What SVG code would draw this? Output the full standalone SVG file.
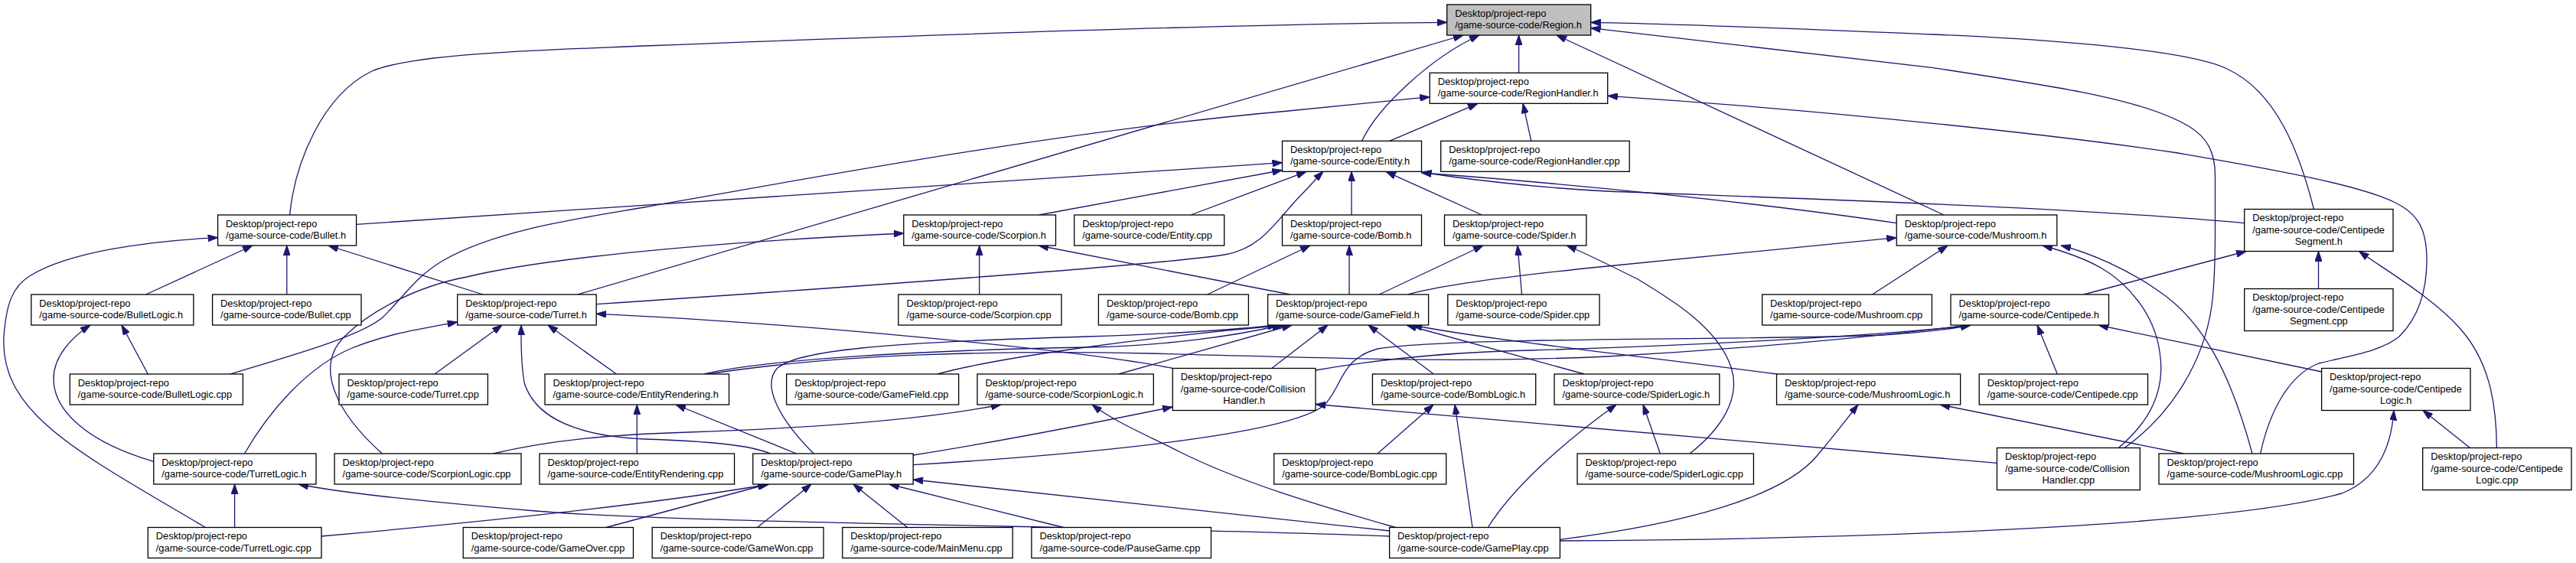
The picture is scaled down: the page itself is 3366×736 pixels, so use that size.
<svg xmlns="http://www.w3.org/2000/svg" width="3366" height="736" viewBox="0 0 3366 736">
<style>
.n rect{fill:#fff;stroke:#000;stroke-width:1.3}
.n rect.root{fill:#bfbfbf}
.n text{font-family:"Liberation Sans",Arial,Helvetica,sans-serif;font-size:12.85px;fill:#000}
.n text.c{text-anchor:middle}
.e path{fill:none;stroke:#191970;stroke-width:1.3;marker-end:url(#a)}
</style>
<defs>
<marker id="a" viewBox="0 0 13 9" refX="13" refY="4.5" markerWidth="13" markerHeight="9" markerUnits="userSpaceOnUse" orient="auto"><path d="M0,0 L13,4.5 L0,9 Z" fill="#191970" stroke="#191970" stroke-width="1"/></marker>
</defs>
<rect x="0" y="0" width="3366" height="736" fill="#fff"/>
<g id="edges" class="e">
<path d="M378.6,281 C385,215 420,125 486,93 C540,70 700,66 842,60 C1100,50 1600,31 1890.7,29.3"/>
<path d="M1984.6,95.3 L1984.6,46"/>
<path d="M1779.6,184.3 C1800,140 1870,75 1933,46"/>
<path d="M754.5,385 L1912,46"/>
<path d="M2540,281 L2034,46"/>
<path d="M3023.4,273.5 C3005,200 2975,120 2910,90 C2850,60 2600,48 2524,45 C2350,38 2200,31 2078.7,29.3"/>
<path d="M2776,585.5 C2840,540 2880,470 2890,400 C2894,370 2894.5,340 2894.5,300 L2894.5,230 C2894.5,200 2885,180 2860,165 C2800,130 2700,115 2524,88.3 L2078.7,36.7"/>
<path d="M1815.6,184.3 L1931,135.3"/>
<path d="M2000.8,184.3 L1990,135.3"/>
<path d="M300.7,489 C380,465 470,440 500,415 C530,385 545,360 580,340 C650,300 760,285 842,271 C1100,225 1400,170 1684,145 L1868.2,126.7"/>
<path d="M2953.6,593 C2965,540 2990,490 3030,475 C3070,465 3110,460 3135,440 C3165,410 3171,370 3171,340 C3171,300 3160,280 3130,265 C3080,240 2950,218 2846,200 C2700,178 2400,145 2100.7,125.3"/>
<path d="M465.6,293.3 L1675.5,212.7"/>
<path d="M1357.5,281 L1675.5,222.5"/>
<path d="M1556,281 L1707,224.3"/>
<path d="M779.2,397.7 C1100,376 1500,348 1600,333 C1650,325 1670,285 1700,255 C1710,245 1720,233 1729,224.3"/>
<path d="M1766,281 L1766,224.3"/>
<path d="M1936.4,281 L1811,224.3"/>
<path d="M2478.2,291.7 C2300,265 2050,240 1857.5,226"/>
<path d="M2932.7,291.7 C2700,270 2300,258 2100,250 C2000,245 1900,232 1857.5,225"/>
<path d="M190.6,385 L330,321"/>
<path d="M374.8,385 L374.8,321"/>
<path d="M631,385 L429,321"/>
<path d="M268.5,689.5 C100,590 0,540 5,440 C8,400 15,375 40,360 C90,330 190,315 284.6,310.7"/>
<path d="M499.4,593 C440,540 410,480 450,440 C480,410 540,375 610,362 C700,340 900,318 1180.8,305"/>
<path d="M1279.7,385 L1279.7,321"/>
<path d="M1686,385 L1357,321"/>
<path d="M1577.6,385 L1712,321"/>
<path d="M1763,385 L1763,321"/>
<path d="M1802,385 L1938,321"/>
<path d="M1988.5,385 L1983,321"/>
<path d="M2208,593 C2250,560 2275,520 2262,480 C2245,430 2190,395 2140,365 C2100,345 2070,330 2047,321"/>
<path d="M1839.7,385 Q1900,368 2100,348 L2478.2,310.7"/>
<path d="M2446.5,385 L2545,321"/>
<path d="M2768.3,585.5 C2810,550 2830,510 2822,460 C2815,410 2780,370 2745,350 C2720,336 2695,328 2669,321"/>
<path d="M2943,593 C2915,490 2880,420 2820,380 C2780,352 2730,330 2693,321"/>
<path d="M2722.7,385 L2935,328.5"/>
<path d="M3029.5,377.5 L3029.5,328.5"/>
<path d="M3262.4,585.5 C3262,520 3250,470 3215,430 C3180,390 3120,355 3082.5,328.5"/>
<path d="M193.3,489 L159,425"/>
<path d="M200.8,603.3 C120,580 70,540 70,495 C70,465 95,440 118,425"/>
<path d="M568,489 L656,425"/>
<path d="M805.5,489 L716,425"/>
<path d="M1006.7,593 C980,582 930,577 842,574 C760,570 700,550 685,500 C680,470 681,445 681,425"/>
<path d="M319.5,593 C350,540 400,480 460,455 C510,435 560,428 597.7,421"/>
<path d="M1532.3,481.5 C1400,455 1000,420 779.2,410.3"/>
<path d="M920,489 C1000,470 1200,458 1420,454 C1520,452 1610,440 1675,425"/>
<path d="M1225,489 C1300,468 1500,440 1680,425"/>
<path d="M1461.7,489 L1688,425"/>
<path d="M1063.3,593 C1020,550 995,505 1015,482 C1040,458 1150,448 1420,440 C1550,436 1620,430 1670,425"/>
<path d="M1661.7,481.5 L1735,425"/>
<path d="M1873.3,489 L1788,425"/>
<path d="M2070,489 L1838,425"/>
<path d="M2322,489 C2100,460 1950,445 1845,425"/>
<path d="M925,489 C1100,462 1300,458 1500,462 C1750,468 1900,475 2100,466 C2300,455 2450,440 2575,425"/>
<path d="M1719,484 C1800,470 1900,460 2000,458 C2200,452 2450,440 2575,425"/>
<path d="M1193.2,607.7 C1400,595 1680,570 1730,530 C1755,505 1750,470 1800,456 C1900,440 2300,445 2460,438 C2510,435 2550,430 2575,425"/>
<path d="M2688.3,489 L2662,425"/>
<path d="M3033.6,486 L2742,425"/>
<path d="M832.3,593 L832.3,529"/>
<path d="M1040.7,593 L883,529"/>
<path d="M644.4,593 C720,575 800,568 900,565 C1050,560 1200,550 1308,529"/>
<path d="M1823.6,689.5 C1720,660 1620,630 1540,590 C1490,565 1455,550 1427,529"/>
<path d="M1193.2,595 C1300,578 1420,555 1532,532"/>
<path d="M2609.4,605.3 L1719,528.5"/>
<path d="M1800,593 L1873,529"/>
<path d="M1924,689.5 L1901,529"/>
<path d="M1944.4,689.5 C1975,640 2040,580 2112,529"/>
<path d="M2169.3,593 L2147,529"/>
<path d="M2038.4,705.3 C2200,685 2330,650 2375,595 C2400,565 2415,545 2428,529"/>
<path d="M2853.3,593 L2535,529"/>
<path d="M3227.5,585.5 L3166,536.5"/>
<path d="M2038.4,707 C2400,705 2900,690 3060,645 C3110,625 3125,580 3128,536.5"/>
<path d="M306.6,689.5 L306.6,633"/>
<path d="M1815.6,701 C1500,688 900,685 700,668 C550,655 450,645 390,633"/>
<path d="M420,701 C600,685 850,660 1005,633"/>
<path d="M792,689.5 L1003,633"/>
<path d="M989.7,689.5 L1060,633"/>
<path d="M1185.7,689.5 L1115,633"/>
<path d="M1389.7,689.5 L1162,633"/>
<path d="M1815.6,694 L1193.2,627"/>
</g>
<g id="region_h" class="n"><rect class="root" x="1890.7" y="6" width="188" height="40"/><text x="1901.2" y="21.5">Desktop/project-repo</text><text x="1901.2" y="37">/game-source-code/Region.h</text></g>
<g id="regionhandler_h" class="n"><rect x="1868.2" y="95.3" width="232.5" height="40"/><text x="1878.7" y="110.8">Desktop/project-repo</text><text x="1878.7" y="126.3">/game-source-code/RegionHandler.h</text></g>
<g id="entity_h" class="n"><rect x="1675.5" y="184.3" width="182" height="40"/><text x="1686" y="199.8">Desktop/project-repo</text><text x="1686" y="215.3">/game-source-code/Entity.h</text></g>
<g id="regionhandler_cpp" class="n"><rect x="1882.7" y="184.3" width="246.5" height="40"/><text x="1893.2" y="199.8">Desktop/project-repo</text><text x="1893.2" y="215.3">/game-source-code/RegionHandler.cpp</text></g>
<g id="bullet_h" class="n"><rect x="284.6" y="281" width="181" height="40"/><text x="295.1" y="296.5">Desktop/project-repo</text><text x="295.1" y="312">/game-source-code/Bullet.h</text></g>
<g id="scorpion_h" class="n"><rect x="1180.8" y="281" width="198.7" height="40"/><text x="1191.3" y="296.5">Desktop/project-repo</text><text x="1191.3" y="312">/game-source-code/Scorpion.h</text></g>
<g id="entity_cpp" class="n"><rect x="1403.7" y="281" width="196" height="40"/><text x="1414.2" y="296.5">Desktop/project-repo</text><text x="1414.2" y="312">/game-source-code/Entity.cpp</text></g>
<g id="bomb_h" class="n"><rect x="1675.5" y="281" width="182" height="40"/><text x="1686" y="296.5">Desktop/project-repo</text><text x="1686" y="312">/game-source-code/Bomb.h</text></g>
<g id="spider_h" class="n"><rect x="1887.5" y="281" width="185.3" height="40"/><text x="1898" y="296.5">Desktop/project-repo</text><text x="1898" y="312">/game-source-code/Spider.h</text></g>
<g id="mushroom_h" class="n"><rect x="2478.2" y="281" width="209.6" height="40"/><text x="2488.7" y="296.5">Desktop/project-repo</text><text x="2488.7" y="312">/game-source-code/Mushroom.h</text></g>
<g id="centipedesegment_h" class="n"><rect x="2932.7" y="273.5" width="194.3" height="55"/><text x="2943.2" y="289">Desktop/project-repo</text><text x="2943.2" y="304.5">/game-source-code/Centipede</text><text class="c" x="3029.85" y="319.5">Segment.h</text></g>
<g id="bulletlogic_h" class="n"><rect x="40.8" y="385" width="212.1" height="40"/><text x="51.3" y="400.5">Desktop/project-repo</text><text x="51.3" y="416">/game-source-code/BulletLogic.h</text></g>
<g id="bullet_cpp" class="n"><rect x="277.6" y="385" width="194.4" height="40"/><text x="288.1" y="400.5">Desktop/project-repo</text><text x="288.1" y="416">/game-source-code/Bullet.cpp</text></g>
<g id="turret_h" class="n"><rect x="597.7" y="385" width="181.5" height="40"/><text x="608.2" y="400.5">Desktop/project-repo</text><text x="608.2" y="416">/game-source-code/Turret.h</text></g>
<g id="scorpion_cpp" class="n"><rect x="1173.9" y="385" width="213.1" height="40"/><text x="1184.4" y="400.5">Desktop/project-repo</text><text x="1184.4" y="416">/game-source-code/Scorpion.cpp</text></g>
<g id="bomb_cpp" class="n"><rect x="1435.4" y="385" width="196" height="40"/><text x="1445.9" y="400.5">Desktop/project-repo</text><text x="1445.9" y="416">/game-source-code/Bomb.cpp</text></g>
<g id="gamefield_h" class="n"><rect x="1656.6" y="385" width="210" height="40"/><text x="1667.1" y="400.5">Desktop/project-repo</text><text x="1667.1" y="416">/game-source-code/GameField.h</text></g>
<g id="spider_cpp" class="n"><rect x="1891.8" y="385" width="198.2" height="40"/><text x="1902.3" y="400.5">Desktop/project-repo</text><text x="1902.3" y="416">/game-source-code/Spider.cpp</text></g>
<g id="mushroom_cpp" class="n"><rect x="2302.6" y="385" width="221.8" height="40"/><text x="2313.1" y="400.5">Desktop/project-repo</text><text x="2313.1" y="416">/game-source-code/Mushroom.cpp</text></g>
<g id="centipede_h" class="n"><rect x="2549" y="385" width="206.5" height="40"/><text x="2559.5" y="400.5">Desktop/project-repo</text><text x="2559.5" y="416">/game-source-code/Centipede.h</text></g>
<g id="centipedesegment_cpp" class="n"><rect x="2932.7" y="377.5" width="194.3" height="55"/><text x="2943.2" y="393">Desktop/project-repo</text><text x="2943.2" y="408.5">/game-source-code/Centipede</text><text class="c" x="3029.85" y="423.5">Segment.cpp</text></g>
<g id="bulletlogic_cpp" class="n"><rect x="91.3" y="489" width="226.1" height="40"/><text x="101.8" y="504.5">Desktop/project-repo</text><text x="101.8" y="520">/game-source-code/BulletLogic.cpp</text></g>
<g id="turret_cpp" class="n"><rect x="443" y="489" width="194.4" height="40"/><text x="453.5" y="504.5">Desktop/project-repo</text><text x="453.5" y="520">/game-source-code/Turret.cpp</text></g>
<g id="entityrendering_h" class="n"><rect x="712" y="489" width="240.6" height="40"/><text x="722.5" y="504.5">Desktop/project-repo</text><text x="722.5" y="520">/game-source-code/EntityRendering.h</text></g>
<g id="gamefield_cpp" class="n"><rect x="1027.7" y="489" width="225" height="40"/><text x="1038.2" y="504.5">Desktop/project-repo</text><text x="1038.2" y="520">/game-source-code/GameField.cpp</text></g>
<g id="scorpionlogic_h" class="n"><rect x="1277" y="489" width="230.3" height="40"/><text x="1287.5" y="504.5">Desktop/project-repo</text><text x="1287.5" y="520">/game-source-code/ScorpionLogic.h</text></g>
<g id="collisionhandler_h" class="n"><rect x="1532.3" y="481.5" width="186.7" height="55"/><text x="1542.8" y="497">Desktop/project-repo</text><text x="1542.8" y="512.5">/game-source-code/Collision</text><text class="c" x="1625.65" y="527.5">Handler.h</text></g>
<g id="bomblogic_h" class="n"><rect x="1793.4" y="489" width="213.3" height="40"/><text x="1803.9" y="504.5">Desktop/project-repo</text><text x="1803.9" y="520">/game-source-code/BombLogic.h</text></g>
<g id="spiderlogic_h" class="n"><rect x="2031" y="489" width="215.8" height="40"/><text x="2041.5" y="504.5">Desktop/project-repo</text><text x="2041.5" y="520">/game-source-code/SpiderLogic.h</text></g>
<g id="mushroomlogic_h" class="n"><rect x="2321.5" y="489" width="240.1" height="40"/><text x="2332" y="504.5">Desktop/project-repo</text><text x="2332" y="520">/game-source-code/MushroomLogic.h</text></g>
<g id="centipede_cpp" class="n"><rect x="2586.2" y="489" width="220.3" height="40"/><text x="2596.7" y="504.5">Desktop/project-repo</text><text x="2596.7" y="520">/game-source-code/Centipede.cpp</text></g>
<g id="centipedelogic_h" class="n"><rect x="3033.6" y="481.5" width="194.4" height="55"/><text x="3044.1" y="497">Desktop/project-repo</text><text x="3044.1" y="512.5">/game-source-code/Centipede</text><text class="c" x="3130.8" y="527.5">Logic.h</text></g>
<g id="turretlogic_h" class="n"><rect x="200.8" y="593" width="212.2" height="40"/><text x="211.3" y="608.5">Desktop/project-repo</text><text x="211.3" y="624">/game-source-code/TurretLogic.h</text></g>
<g id="scorpionlogic_cpp" class="n"><rect x="437.1" y="593" width="243.9" height="40"/><text x="447.6" y="608.5">Desktop/project-repo</text><text x="447.6" y="624">/game-source-code/ScorpionLogic.cpp</text></g>
<g id="entityrendering_cpp" class="n"><rect x="705" y="593" width="254.6" height="40"/><text x="715.5" y="608.5">Desktop/project-repo</text><text x="715.5" y="624">/game-source-code/EntityRendering.cpp</text></g>
<g id="gameplay_h" class="n"><rect x="983.8" y="593" width="209.4" height="40"/><text x="994.3" y="608.5">Desktop/project-repo</text><text x="994.3" y="624">/game-source-code/GamePlay.h</text></g>
<g id="bomblogic_cpp" class="n"><rect x="1664.7" y="593" width="225" height="40"/><text x="1675.2" y="608.5">Desktop/project-repo</text><text x="1675.2" y="624">/game-source-code/BombLogic.cpp</text></g>
<g id="spiderlogic_cpp" class="n"><rect x="2061" y="593" width="230.4" height="40"/><text x="2071.5" y="608.5">Desktop/project-repo</text><text x="2071.5" y="624">/game-source-code/SpiderLogic.cpp</text></g>
<g id="collisionhandler_cpp" class="n"><rect x="2609.4" y="585.5" width="186.9" height="55"/><text x="2619.9" y="601">Desktop/project-repo</text><text x="2619.9" y="616.5">/game-source-code/Collision</text><text class="c" x="2702.85" y="631.5">Handler.cpp</text></g>
<g id="mushroomlogic_cpp" class="n"><rect x="2821" y="593" width="254.5" height="40"/><text x="2831.5" y="608.5">Desktop/project-repo</text><text x="2831.5" y="624">/game-source-code/MushroomLogic.cpp</text></g>
<g id="centipedelogic_cpp" class="n"><rect x="3165.7" y="585.5" width="194.3" height="55"/><text x="3176.2" y="601">Desktop/project-repo</text><text x="3176.2" y="616.5">/game-source-code/Centipede</text><text class="c" x="3262.85" y="631.5">Logic.cpp</text></g>
<g id="turretlogic_cpp" class="n"><rect x="193.3" y="689.5" width="226.7" height="40"/><text x="203.8" y="705">Desktop/project-repo</text><text x="203.8" y="720.5">/game-source-code/TurretLogic.cpp</text></g>
<g id="gameover_cpp" class="n"><rect x="605.2" y="689.5" width="222.3" height="40"/><text x="615.7" y="705">Desktop/project-repo</text><text x="615.7" y="720.5">/game-source-code/GameOver.cpp</text></g>
<g id="gamewon_cpp" class="n"><rect x="852.2" y="689.5" width="223.9" height="40"/><text x="862.7" y="705">Desktop/project-repo</text><text x="862.7" y="720.5">/game-source-code/GameWon.cpp</text></g>
<g id="mainmenu_cpp" class="n"><rect x="1100.8" y="689.5" width="222.4" height="40"/><text x="1111.3" y="705">Desktop/project-repo</text><text x="1111.3" y="720.5">/game-source-code/MainMenu.cpp</text></g>
<g id="pausegame_cpp" class="n"><rect x="1347.9" y="689.5" width="234.6" height="40"/><text x="1358.4" y="705">Desktop/project-repo</text><text x="1358.4" y="720.5">/game-source-code/PauseGame.cpp</text></g>
<g id="gameplay_cpp" class="n"><rect x="1815.6" y="689.5" width="222.8" height="40"/><text x="1826.1" y="705">Desktop/project-repo</text><text x="1826.1" y="720.5">/game-source-code/GamePlay.cpp</text></g>
</svg>
